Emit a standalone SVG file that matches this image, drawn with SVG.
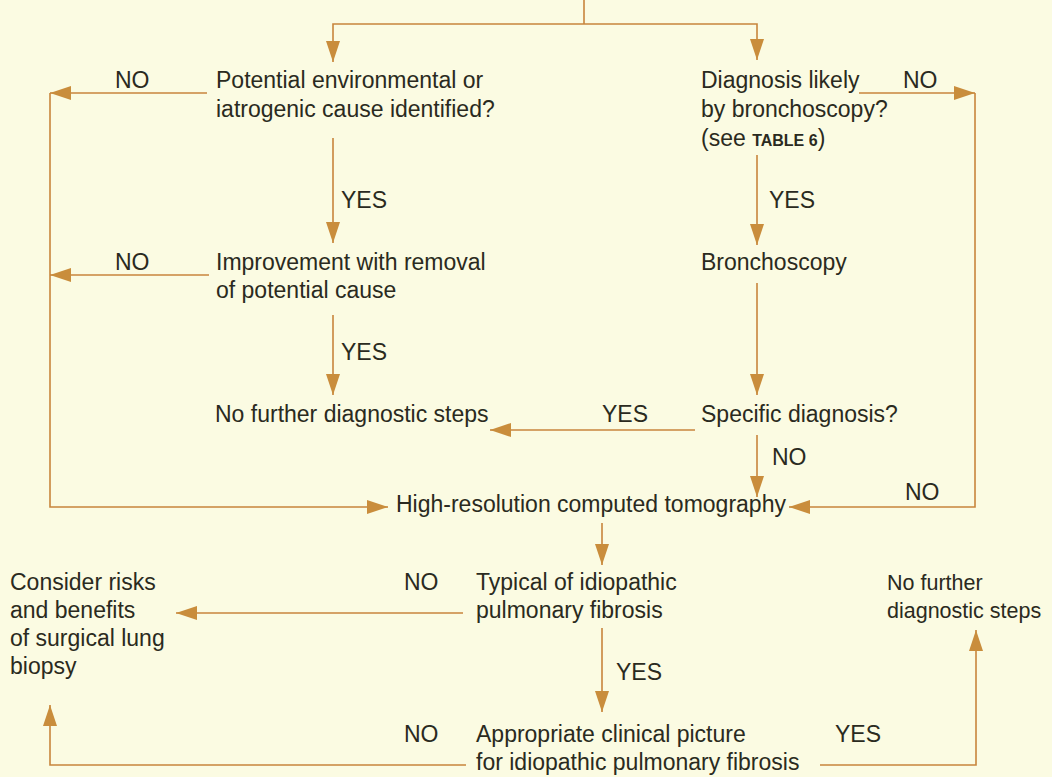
<svg xmlns="http://www.w3.org/2000/svg" width="1052" height="777" viewBox="0 0 1052 777">
<defs>
<style>
text{font-family:"Liberation Sans",Arial,sans-serif;font-size:23px;fill:#2a2a20}
.c{fill:none;stroke:#c8853c;stroke-width:1.6}
.a{marker-end:url(#ah)}
.sc{font-size:16px;font-weight:bold}
.n2{font-size:21.5px}
</style>
<marker id="ah" markerUnits="userSpaceOnUse" markerWidth="22" markerHeight="14" refX="21" refY="7" orient="auto">
<path d="M0,0 L21,7 L0,14 z" fill="#c98d3c"/>
</marker>
</defs>
<rect width="1052" height="777" fill="#fbfbe2"/>
<g id="connectors">
<path class="c" d="M584,0 V24"/>
<path class="c a" d="M584,24 H333 V62"/>
<path class="c a" d="M584,24 H757 V60"/>
<path class="c a" d="M207,93 H50"/>
<path class="c a" d="M50,93 V507 H388"/>
<path class="c a" d="M333,138 V243"/>
<path class="c a" d="M209,275 H50"/>
<path class="c a" d="M333,315 V395"/>
<path class="c a" d="M859,93 H975"/>
<path class="c a" d="M975,93 V507 H789"/>
<path class="c a" d="M757,155 V245"/>
<path class="c a" d="M757,283 V395"/>
<path class="c a" d="M695,430 H490"/>
<path class="c a" d="M757,435 V497"/>
<path class="c a" d="M602,523 V565"/>
<path class="c a" d="M463,613 H176"/>
<path class="c a" d="M602,628 V712"/>
<path class="c a" d="M466,765 H50 V705"/>
<path class="c a" d="M820,765 H976 V630"/>
<g id="labels">
<text x="115" y="88">NO</text>
<text x="115" y="270">NO</text>
<text x="341" y="208">YES</text>
<text x="341" y="360">YES</text>
<text x="903" y="88">NO</text>
<text x="769" y="208">YES</text>
<text x="602" y="422">YES</text>
<text x="772" y="465">NO</text>
<text x="905" y="500">NO</text>
<text x="404" y="590">NO</text>
<text x="616" y="680">YES</text>
<text x="404" y="742">NO</text>
<text x="835" y="742">YES</text>
</g>
</g>
<g id="n-environmental"><text x="216" y="88">Potential environmental or</text><text x="216" y="117">iatrogenic cause identified?</text></g>
<g id="n-improvement"><text x="216" y="270">Improvement with removal</text><text x="216" y="298">of potential cause</text></g>
<g id="n-nofurther1"><text x="215" y="422">No further diagnostic steps</text></g>
<g id="n-diagnosis"><text x="701" y="88">Diagnosis likely</text><text x="701" y="117">by bronchoscopy?</text><text x="701" y="146">(see <tspan class="sc">TABLE 6</tspan>)</text></g>
<g id="n-bronchoscopy"><text x="701" y="270">Bronchoscopy</text></g>
<g id="n-specific"><text x="701" y="422">Specific diagnosis?</text></g>
<g id="n-hrct"><text x="396" y="512">High-resolution computed tomography</text></g>
<g id="n-typical"><text x="476" y="590">Typical of idiopathic</text><text x="476" y="618">pulmonary fibrosis</text></g>
<g id="n-biopsy"><text x="10" y="590">Consider risks</text><text x="10" y="618">and benefits</text><text x="10" y="646">of surgical lung</text><text x="10" y="674">biopsy</text></g>
<g id="n-nofurther2"><text class="n2" x="887" y="590">No further</text><text class="n2" x="887" y="618">diagnostic steps</text></g>
<g id="n-appropriate"><text x="476" y="742">Appropriate clinical picture</text><text x="476" y="770">for idiopathic pulmonary fibrosis</text></g>
</svg>
